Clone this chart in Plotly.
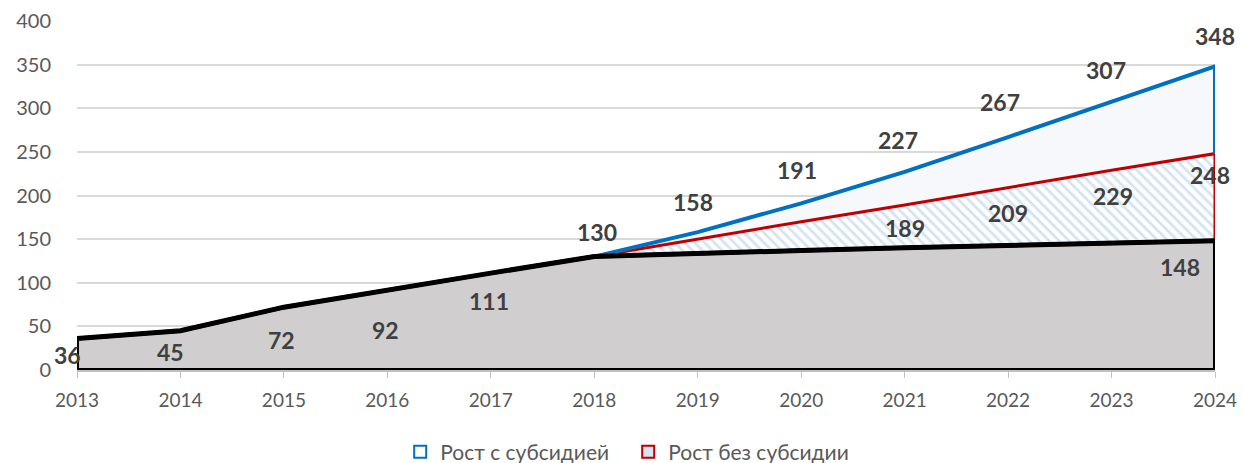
import plotly.graph_objects as go

years = [2013, 2014, 2015, 2016, 2017, 2018, 2019, 2020, 2021, 2022, 2023, 2024]
base = [36, 45, 72, 92, 111, 130, 134, 137, 140, 143, 146, 148]
with_subsidy = [130, 158, 191, 227, 267, 307, 348]          # 2018..2024
without_subsidy = [130, 150, 170, 189, 209, 229, 248]       # 2018..2024
growth_years = years[5:]

series_names = ["Рост с субсидией", "Рост без субсидии"]

# labels: (index, xshift, yshift)
base_label_idx = [0, 1, 2, 3, 4, 5, 11]
base_label_shift = [(-10, -16), (-10, -21), (-2, -33), (-2, -40), (-2, -28), (3, 25), (-35, -26)]
blue_label_idx = [1, 2, 3, 4, 5, 6]
blue_label_shift = [(-5, 30), (-4, 33), (-7, 32), (-8, 35), (-6, 32), (0, 30)]
red_label_idx = [3, 4, 5, 6]
red_label_shift = [(0, -23), (0, -25), (1, -26), (-5, -21)]

BLUE = "#0070c0"
RED = "#c00000"
FONT = "Lato"

fig = go.Figure()

base_g = base[5:]
# hatched area between base and "without subsidy"
fig.add_trace(go.Scatter(
    x=growth_years + growth_years[::-1],
    y=without_subsidy + base_g[::-1],
    fill="toself", mode="none", showlegend=False, hoverinfo="skip",
    fillcolor="white",
    fillpattern=dict(shape="\\", fgcolor="#a9c8e8", bgcolor="#ffffff", size=7, solidity=0.4),
))
# very light area between "without" and "with"
fig.add_trace(go.Scatter(
    x=growth_years + growth_years[::-1],
    y=with_subsidy + without_subsidy[::-1],
    fill="toself", mode="none", showlegend=False, hoverinfo="skip",
    fillcolor="#f6f8fc",
))
# base gray polygon
fig.add_trace(go.Scatter(
    x=years + [years[-1], years[0], years[0]],
    y=base + [0, 0, base[0]],
    fill="toself", fillcolor="#d0cecf", mode="lines",
    line=dict(color="black", width=4), showlegend=False, hoverinfo="skip",
))
# red outline
fig.add_trace(go.Scatter(
    x=growth_years + [growth_years[-1]],
    y=without_subsidy + [base[-1]],
    mode="lines", line=dict(color=RED, width=3), showlegend=False, hoverinfo="skip",
))
# blue outline
fig.add_trace(go.Scatter(
    x=growth_years + [growth_years[-1]],
    y=with_subsidy + [without_subsidy[-1]],
    mode="lines", line=dict(color=BLUE, width=4), showlegend=False, hoverinfo="skip",
))
# base top line on top
fig.add_trace(go.Scatter(
    x=years, y=base, mode="lines", line=dict(color="black", width=5),
    showlegend=False, hoverinfo="skip",
))

# legend entries
fig.add_trace(go.Scatter(
    x=[None], y=[None], mode="markers", name=series_names[0],
    marker=dict(symbol="square", size=14, color="white", line=dict(color=BLUE, width=3.5)),
))
fig.add_trace(go.Scatter(
    x=[None], y=[None], mode="markers", name=series_names[1],
    marker=dict(symbol="square", size=14, color="#d6e4f3", line=dict(color=RED, width=3.5)),
))

lab_font = dict(family=FONT, size=23, color="#404040", weight="bold")

def add_labels(xs, ys, idxs, shifts):
    for i, (dx, dy) in zip(idxs, shifts):
        fig.add_annotation(x=xs[i], y=ys[i], text=str(ys[i]), showarrow=False,
                           xshift=dx, yshift=dy, font=lab_font)

add_labels(years, base, base_label_idx, base_label_shift)
add_labels(growth_years, with_subsidy, blue_label_idx, blue_label_shift)
add_labels(growth_years, without_subsidy, red_label_idx, red_label_shift)

fig.update_layout(
    width=1243, height=463,
    margin=dict(l=77, r=28, t=21, b=93, autoexpand=False),
    paper_bgcolor="white", plot_bgcolor="white",
    font=dict(family=FONT, size=18, color="#595959"),
    showlegend=True,
    legend=dict(orientation="h", x=0.284, xanchor="left", y=-0.235, yanchor="middle",
                font=dict(family=FONT, size=21, color="#595959"),
                itemsizing="constant", traceorder="normal", itemwidth=30,
                entrywidth=183, entrywidthmode="pixels", tracegroupgap=0),
    xaxis=dict(range=[2013, 2024], tickvals=years, ticktext=[str(y) for y in years],
               showgrid=False, zeroline=False, showline=True, linecolor="#bfbfbf", linewidth=1.5,
               ticks="outside", ticklen=6, tickcolor="#bfbfbf", ticklabelstandoff=6,
               tickfont=dict(family=FONT, size=19, color="#595959")),
    yaxis=dict(range=[0, 400], dtick=50, showgrid=True, gridcolor="#d9d9d9", gridwidth=1.5,
               zeroline=False, showline=False, ticks="", ticklabelstandoff=25,
               tickfont=dict(family=FONT, size=20, color="#595959")),
)

fig.write_html("out.html")
